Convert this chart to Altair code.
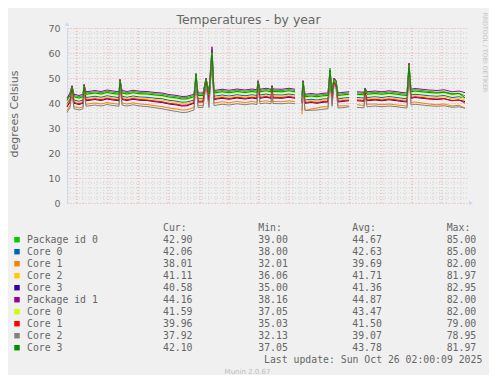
import altair as alt
import pandas as pd
import numpy as np

# ---------------- data ----------------
START = "2024-09-21 02:00:00"
END = "2025-10-26 02:00:00"

# days since START of each sample
day_offsets = [0, 3, 5, 7, 12, 16, 17, 19, 28, 34,
               40, 46, 52, 53, 55, 60, 66, 73, 80, 88,
               95, 102, 110, 115, 120, 127, 129, 131, 136, 139,
               142, 145, 147, 155, 162, 170, 178, 185, 190, 191,
               193, 199, 204, 205, 206, 215, 222, 228, 235, 236,
               238, 244, 250, 256, 261, 263, 265, 267, 269, 271,
               277, 282, 290, 297, 298, 300, 308, 315, 322, 330,
               335, 340, 342, 344, 348, 355, 362, 370, 377, 385,
               392, 398]
# first sample day of each continuous data segment (gaps in between)
segment_starts = [0, 235, 290]

series_names = ["Package id 0", "Core 0", "Core 1", "Core 2", "Core 3",
                "Package id 1", "Core 0", "Core 1", "Core 2", "Core 3"]
series_colors = ["#00CC00", "#0066B3", "#FF8000", "#FFCC00", "#330099",
                 "#990099", "#CCFF00", "#FF0000", "#808080", "#008F00"]

pkg0 = [41.5, 43.5, 46.8, 43.0, 42.5, 43.0, 47.3, 44.0, 44.5, 44.1,
        44.7, 44.3, 44.0, 49.3, 44.5, 44.1, 44.6, 44.2, 44.1, 43.7,
        43.5, 42.9, 42.5, 42.1, 42.2, 43.0, 52.0, 43.5, 43.5, 49.8,
        44.0, 61.5, 44.5, 45.0, 44.6, 45.1, 44.7, 45.1, 44.8, 48.8,
        45.0, 45.4, 45.0, 46.8, 45.1, 45.0, 45.4, 45.0, 43.0, 48.8,
        43.0, 43.3, 43.0, 43.4, 43.5, 54.0, 44.5, 49.8, 48.8, 43.5,
        43.8, 44.0, 44.0, 43.8, 45.8, 44.0, 44.3, 44.0, 44.4, 44.0,
        43.7, 43.5, 55.5, 45.0, 45.3, 45.0, 44.6, 44.3, 44.5, 43.8,
        43.9, 42.90]
core0_a = [39.7, 41.7, 45.8, 41.2, 40.7, 41.2, 46.3, 42.2, 42.7, 42.3,
           42.9, 42.5, 42.2, 48.3, 42.7, 42.3, 42.8, 42.4, 42.3, 41.9,
           41.7, 41.1, 40.7, 40.3, 40.4, 41.2, 50.3, 41.7, 41.7, 48.8,
           42.2, 59.5, 42.7, 43.2, 42.8, 43.3, 42.9, 43.3, 43.0, 47.8,
           43.2, 43.6, 43.2, 45.8, 43.3, 43.2, 43.6, 43.2, 41.2, 47.8,
           41.2, 41.5, 41.2, 41.6, 41.7, 51.8, 42.7, 48.8, 47.8, 41.7,
           42.0, 42.2, 42.2, 42.0, 44.8, 42.2, 42.5, 42.2, 42.6, 42.2,
           41.9, 41.7, 54.8, 43.2, 43.5, 43.2, 42.9, 42.7, 43.0, 42.2,
           42.5, 42.06]
core1_a = [37.0, 39.0, 44.5, 38.5, 38.0, 38.5, 45.0, 39.5, 40.0, 39.6,
           40.2, 39.8, 39.5, 47.0, 40.0, 39.6, 40.1, 39.6, 39.4, 38.9,
           38.6, 38.0, 37.6, 37.2, 37.3, 38.2, 49.0, 39.0, 39.0, 47.5,
           39.5, 58.0, 40.0, 40.5, 40.1, 40.6, 40.2, 40.6, 40.3, 46.5,
           40.5, 40.9, 40.5, 44.5, 40.6, 40.5, 40.9, 40.5, 35.5, 46.0,
           37.0, 37.6, 38.0, 38.5, 38.5, 50.0, 39.5, 47.5, 46.5, 38.8,
           38.9, 38.8, 39.3, 39.0, 43.5, 39.5, 39.6, 39.3, 39.6, 39.2,
           39.0, 38.8, 53.0, 40.2, 40.4, 40.0, 39.6, 39.3, 39.6, 38.8,
           39.1, 38.01]
core2_a = [39.2, 41.2, 45.6, 40.7, 40.2, 40.7, 46.1, 41.7, 42.2, 41.8,
           42.4, 42.0, 41.7, 48.1, 42.2, 41.8, 42.3, 41.9, 41.8, 41.4,
           41.2, 40.6, 40.2, 39.8, 39.9, 40.7, 50.1, 41.2, 41.2, 48.6,
           41.7, 60.0, 42.2, 42.7, 42.3, 42.8, 42.4, 42.8, 42.5, 47.6,
           42.7, 43.1, 42.7, 45.6, 42.8, 42.7, 43.1, 42.7, 40.7, 47.6,
           40.7, 41.0, 40.7, 41.1, 41.2, 51.6, 42.2, 48.6, 47.6, 41.2,
           41.5, 41.7, 41.7, 41.5, 44.6, 41.7, 42.0, 41.7, 42.1, 41.7,
           41.4, 41.2, 54.6, 42.7, 43.0, 42.7, 42.4, 42.2, 42.5, 41.7,
           42.0, 41.11]
core3_a = [38.4, 40.4, 45.2, 39.9, 39.4, 39.9, 45.7, 40.9, 41.4, 41.0,
           41.6, 41.2, 40.9, 47.7, 41.4, 41.0, 41.5, 41.1, 41.0, 40.5,
           40.2, 39.6, 39.2, 38.8, 38.9, 39.9, 49.7, 40.4, 40.4, 48.2,
           40.9, 58.8, 41.4, 41.9, 41.5, 42.0, 41.6, 42.0, 41.7, 47.2,
           41.9, 42.3, 41.9, 45.2, 42.0, 41.9, 42.3, 41.9, 39.9, 47.2,
           39.9, 40.2, 39.9, 40.3, 40.4, 51.2, 41.4, 48.2, 47.2, 40.4,
           40.7, 40.9, 40.9, 40.7, 44.2, 40.9, 41.2, 40.9, 41.3, 40.9,
           40.6, 40.4, 54.0, 41.9, 42.2, 41.9, 41.6, 41.4, 41.7, 40.9,
           41.2, 40.58]
pkg1 = [42.0, 44.0, 47.0, 43.5, 43.0, 43.5, 47.5, 44.5, 45.0, 44.6,
        45.2, 44.8, 44.5, 49.5, 45.0, 44.6, 45.1, 44.7, 44.6, 44.2,
        44.0, 43.4, 43.0, 42.6, 42.7, 43.5, 51.5, 44.0, 44.0, 50.0,
        44.5, 62.5, 45.0, 45.5, 45.1, 45.6, 45.2, 45.6, 45.3, 49.0,
        45.5, 45.9, 45.5, 47.0, 45.6, 45.5, 45.9, 45.5, 43.5, 49.0,
        43.5, 43.8, 43.5, 43.9, 44.0, 53.0, 45.0, 50.0, 49.0, 44.0,
        44.3, 44.5, 44.5, 44.3, 46.0, 44.5, 44.8, 44.5, 44.9, 44.5,
        44.2, 44.0, 56.0, 45.5, 45.8, 45.5, 45.2, 45.0, 45.3, 44.5,
        44.8, 44.16]
core0_b = [40.7, 42.7, 46.3, 42.2, 41.7, 42.2, 46.8, 43.2, 43.7, 43.3,
           43.9, 43.5, 43.2, 48.8, 43.7, 43.3, 43.8, 43.4, 43.3, 42.9,
           42.7, 42.1, 41.7, 41.3, 41.4, 42.2, 50.8, 42.7, 42.7, 49.3,
           43.2, 60.0, 43.7, 44.2, 43.8, 44.3, 43.9, 44.3, 44.0, 48.3,
           44.2, 44.6, 44.2, 46.3, 44.3, 44.2, 44.6, 44.2, 42.2, 48.3,
           42.2, 42.5, 42.2, 42.6, 42.7, 52.3, 43.7, 49.3, 48.3, 42.7,
           43.0, 43.2, 43.2, 43.0, 45.3, 43.2, 43.5, 43.2, 43.6, 43.2,
           42.9, 42.7, 55.0, 44.2, 44.5, 44.2, 43.9, 43.7, 43.9, 43.1,
           43.3, 41.59]
core1_b = [38.7, 40.7, 45.3, 40.2, 39.7, 40.2, 45.8, 41.2, 41.7, 41.3,
           41.9, 41.5, 41.2, 47.8, 41.7, 41.3, 41.8, 41.4, 41.2, 40.8,
           40.5, 39.9, 39.5, 39.1, 39.2, 40.2, 49.8, 40.7, 40.7, 48.3,
           41.2, 59.0, 41.7, 42.2, 41.8, 42.3, 41.9, 42.3, 42.0, 47.3,
           42.2, 42.6, 42.2, 45.3, 42.3, 42.2, 42.6, 42.2, 40.2, 47.3,
           40.2, 40.5, 40.2, 40.6, 40.7, 51.3, 41.7, 48.3, 47.3, 40.7,
           41.0, 41.2, 41.2, 41.0, 44.3, 41.2, 41.5, 41.2, 41.6, 41.2,
           40.9, 40.7, 54.0, 42.2, 42.5, 42.2, 41.8, 41.6, 41.8, 41.0,
           41.2, 39.96]
core2_b = [36.2, 38.2, 44.1, 37.7, 37.2, 37.7, 44.6, 38.7, 39.2, 38.8,
           39.4, 39.0, 38.7, 46.6, 39.2, 38.8, 39.3, 38.8, 38.6, 38.1,
           37.7, 37.1, 36.6, 36.2, 36.3, 37.2, 48.6, 38.2, 38.2, 47.1,
           38.2, 57.5, 39.0, 39.5, 39.2, 39.7, 39.3, 39.7, 39.4, 46.1,
           39.7, 40.0, 39.7, 44.1, 39.8, 39.7, 40.0, 39.7, 37.0, 46.1,
           37.0, 37.1, 37.2, 37.5, 37.7, 50.0, 38.7, 47.1, 46.1, 38.0,
           38.2, 38.5, 38.2, 38.1, 43.1, 38.5, 38.8, 38.5, 38.8, 38.5,
           38.2, 38.0, 53.0, 39.2, 39.5, 39.2, 38.9, 38.7, 38.9, 38.3,
           38.5, 37.92]
core3_b = [41.0, 43.0, 46.5, 42.5, 42.0, 42.5, 47.0, 43.5, 44.0, 43.6,
           44.2, 43.8, 43.5, 49.0, 44.0, 43.6, 44.1, 43.7, 43.6, 43.2,
           43.0, 42.4, 42.0, 41.6, 41.7, 42.5, 51.0, 43.0, 43.0, 49.5,
           43.5, 60.5, 44.0, 44.5, 44.1, 44.6, 44.2, 44.6, 44.3, 48.5,
           44.5, 44.9, 44.5, 46.5, 44.6, 44.5, 44.9, 44.5, 42.5, 48.5,
           42.5, 42.8, 42.5, 42.9, 43.0, 53.0, 44.0, 49.5, 48.5, 43.0,
           43.3, 43.5, 43.5, 43.3, 45.5, 43.5, 43.8, 43.5, 43.9, 43.5,
           43.2, 43.0, 55.0, 44.5, 44.8, 44.5, 44.2, 44.0, 44.3, 43.5,
           43.8, 42.10]

series_values = [pkg0, core0_a, core1_a, core2_a, core3_a,
                 pkg1, core0_b, core1_b, core2_b, core3_b]

cur_vals = [42.90, 42.06, 38.01, 41.11, 40.58, 44.16, 41.59, 39.96, 37.92, 42.10]
min_vals = [39.00, 38.00, 32.01, 36.06, 35.00, 38.16, 37.05, 35.03, 32.13, 37.05]
avg_vals = [44.67, 42.63, 39.69, 41.71, 41.36, 44.87, 43.47, 41.50, 39.07, 43.78]
max_vals = [85.00, 85.00, 82.00, 81.97, 82.95, 82.00, 82.00, 79.00, 78.95, 81.97]

x_label_dates = [(2024, 10, 15), (2025, 1, 15), (2025, 4, 15), (2025, 7, 15), (2025, 10, 15)]
y_ticks = [0, 10, 20, 30, 40, 50, 60, 70]
y_minor = [v for v in range(2, 70, 2) if v % 10 != 0]

TITLE = "Temperatures - by year"
Y_TITLE = "degrees Celsius"
LAST_UPDATE = "Last update: Sun Oct 26 02:00:09 2025"
FOOTER = "Munin 2.0.67"
WATERMARK = "RRDTOOL / TOBI OETIKER"
headers = ["Cur:", "Min:", "Avg:", "Max:"]

for s in series_values:
    assert len(s) == len(day_offsets), len(s)

# ---------------- tables ----------------
start = pd.Timestamp(START)
end = pd.Timestamp(END)
sids = [f"s{i}" for i in range(len(series_names))]
rows = []
for i, vals in enumerate(series_values):
    for d, v in zip(day_offsets, vals):
        seg = int(np.searchsorted(segment_starts, d, side="right") - 1)
        rows.append({"sid": sids[i], "date": start + pd.Timedelta(days=d),
                     "value": v, "seg": seg})
df = pd.DataFrame(rows)

weeks = pd.DataFrame({"date": pd.date_range(start, end, freq="W-MON").normalize()})
months = pd.DataFrame({"date": pd.date_range(start, end, freq="MS")})
yminor_df = pd.DataFrame({"v": y_minor})

leg = pd.DataFrame({"row": list(range(len(series_names))), "sid": sids,
                    "name": series_names, "cur": cur_vals, "mn": min_vals,
                    "avg": avg_vals, "mx": max_vals})

# ---------------- styles ----------------
BG = "#F0F0F0"
FONT_C = "#666666"
AXIS_C = "#CFD6F8"
MINOR_C = "#D2D2D2"
MAJOR_C = "#F0A8A8"
SANS = "DejaVu Sans"
MONO = "DejaVu Sans Mono"

x_scale = alt.Scale(domain=[alt.DateTime(year=2024, month=9, date=21, hours=2),
                            alt.DateTime(year=2025, month=10, date=26, hours=2)],
                    nice=False)
y_scale = alt.Scale(domain=[0, 70], nice=False, zero=True)
color_scale = alt.Scale(domain=sids, range=series_colors)

month_expr = ("['janvier','février','mars','avril','mai','juin','juillet','août',"
              "'septembre','octobre','novembre','décembre'][month(datum.value)]"
              " + ' ' + year(datum.value)")

x_axis = alt.Axis(values=[alt.DateTime(year=y, month=m, date=d) for y, m, d in x_label_dates],
                  labelExpr=month_expr, title=None, grid=False, ticks=False,
                  domainColor=AXIS_C, labelFont=SANS, labelFontSize=9.5,
                  labelColor=FONT_C, labelPadding=3, labelOverlap=False,
                  labelFlush=False)
y_axis = alt.Axis(values=y_ticks, orient="left", title=None, grid=True,
                  gridColor=MAJOR_C, gridDash=[1, 2], ticks=False,
                  domainColor=AXIS_C, labelFont=SANS, labelFontSize=9.5,
                  labelColor=FONT_C, labelPadding=7)

week_rules = alt.Chart(weeks).mark_rule(color=MINOR_C, strokeDash=[1, 2], strokeWidth=1).encode(
    x=alt.X("date:T", scale=x_scale, axis=None))
month_rules = alt.Chart(months).mark_rule(color=MAJOR_C, strokeDash=[1, 2], strokeWidth=1).encode(
    x=alt.X("date:T", scale=x_scale, axis=None))
ymin_rules = alt.Chart(yminor_df).mark_rule(color=MINOR_C, strokeDash=[1, 2], strokeWidth=1).encode(
    y=alt.Y("v:Q", scale=y_scale, axis=None))

lines = alt.Chart(df).mark_line(strokeWidth=1).encode(
    x=alt.X("date:T", scale=x_scale, axis=x_axis),
    y=alt.Y("value:Q", scale=y_scale, axis=y_axis),
    color=alt.Color("sid:N", scale=color_scale, legend=None),
    detail="seg:N",
)

one = pd.DataFrame({"k": [0]})


def label(text, x, y, size, color=FONT_C, font=SANS, align="center", angle=0):
    kw = dict(align=align, baseline="middle", font=font, fontSize=size, color=color)
    if angle:
        kw["angle"] = angle
    return alt.Chart(one).mark_text(**kw).encode(
        x=alt.value(x), y=alt.value(y), text=alt.value(text))


arrow_up = alt.Chart(one).mark_point(shape="triangle-up", filled=True, size=22,
                                     color=AXIS_C, opacity=1).encode(
    x=alt.value(0), y=alt.value(-4))
arrow_right = alt.Chart(one).mark_point(shape="triangle-right", filled=True, size=22,
                                        color=AXIS_C, opacity=1).encode(
    x=alt.value(404), y=alt.value(175))

row_scale = alt.Scale(domain=[0, 9], range=[211.7, 319.7])
row_y = alt.Y("row:Q", scale=row_scale, axis=None)

swatches = alt.Chart(leg).mark_square(size=30, opacity=1, filled=True).encode(
    x=alt.value(-50), y=row_y, color=alt.Color("sid:N", scale=color_scale, legend=None))
names = alt.Chart(leg).mark_text(align="left", baseline="middle", font=MONO,
                                 fontSize=9.8, color=FONT_C).encode(
    x=alt.value(-40), y=row_y, text="name:N")

col_x = [96, 191.3, 285.3, 379.7]
col_fields = ["cur", "mn", "avg", "mx"]
value_layers = []
for fld, xpos, hdr in zip(col_fields, col_x, headers):
    value_layers.append(
        alt.Chart(leg).mark_text(align="left", baseline="middle", font=MONO,
                                 fontSize=9.8, color=FONT_C).encode(
            x=alt.value(xpos), y=row_y, text=alt.Text(f"{fld}:Q", format=".2f")))
    value_layers.append(label(hdr, xpos, 199.7, 9.8, font=MONO, align="left"))

chart = alt.layer(
    week_rules, month_rules, ymin_rules, lines, arrow_up, arrow_right,
    label(TITLE, 181.5, -8, 12.4),
    label(Y_TITLE, -52.5, 86, 11, angle=270),
    label(WATERMARK, 418, 24.5, 6.2, color="#C4C4C4", angle=90),
    swatches, names, *value_layers,
    label(LAST_UPDATE, 415.3, 332, 9.8, font=MONO, align="right"),
    label(FOOTER, 180.5, 343.7, 7, color="#BDBDBD"),
).resolve_scale(y="independent").properties(
    width=400, height=175,
    autosize=alt.AutoSizeParams(type="none"),
    padding={"left": 59, "top": 20, "right": 22, "bottom": 172},
    background=BG,
).configure_view(stroke=None)

chart.save("out.html", embed_options={"renderer": "svg", "actions": False})
